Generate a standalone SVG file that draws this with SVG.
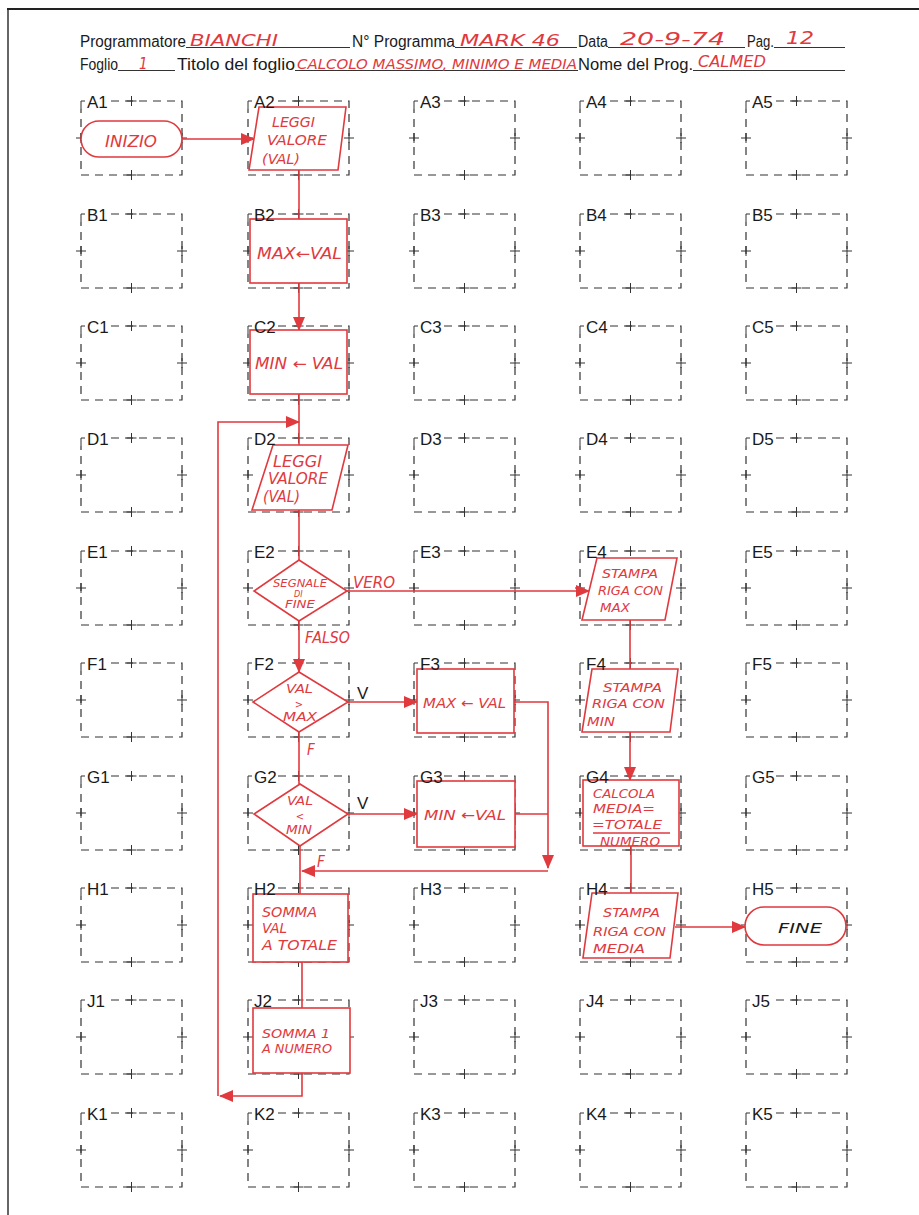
<svg xmlns="http://www.w3.org/2000/svg" width="919" height="1215" viewBox="0 0 919 1215">
<style>
.lbl{font-family:"Liberation Sans",Arial,sans-serif;font-size:17px;fill:#1a1a1a}
.vv{font-family:"Liberation Sans",Arial,sans-serif;font-size:17px;fill:#1a1a1a}
.hd{font-family:"Liberation Sans",Arial,sans-serif;font-size:16px;fill:#1a1a1a}
.hw{font-family:"DejaVu Sans Condensed","DejaVu Sans",sans-serif;font-style:italic;fill:#e0393e}
.bk{font-family:"DejaVu Sans Condensed","DejaVu Sans",sans-serif;font-style:italic;fill:#1a1a1a}
.shape{fill:#fff;stroke:#e0393e;stroke-width:1.6}
.con{fill:none;stroke:#e0393e;stroke-width:1.6}
.ul{stroke:#333;stroke-width:1}
.dash{fill:none;stroke:#333;stroke-width:1.2;stroke-dasharray:8 6}
.cross{fill:none;stroke:#333;stroke-width:1}
</style>
<defs>
<g id="box">
<path class="cross" d="M0 8V0H4"/>
<path class="dash" d="M30 0H101V74H0V8"/>
<path class="cross" d="M50.5 -5V5M45.5 0H55.5M50.5 69V79M45.5 74H55.5M-5 37H5M0 32V42M96 37H106M101 32V42"/>
</g>
<marker id="ah" markerWidth="14" markerHeight="12" refX="13" refY="6" orient="auto" markerUnits="userSpaceOnUse">
<path d="M0 0L14 6L0 12Z" fill="#e0393e"/>
</marker>
</defs>
<rect width="919" height="1215" fill="#fff"/>
<g id="border">
<path d="M7 9H919" stroke="#222" stroke-width="2" fill="none"/>
<path d="M8 10V1215" stroke="#333" stroke-width="1.5" fill="none"/>
</g>
<g id="header">
<text class="hd" x="80" y="47" textLength="106" lengthAdjust="spacingAndGlyphs">Programmatore</text>
<text class="hd" x="352" y="47" textLength="103" lengthAdjust="spacingAndGlyphs">N° Programma</text>
<text class="hd" x="578" y="47" textLength="30" lengthAdjust="spacingAndGlyphs">Data</text>
<text class="hd" x="747" y="47" textLength="27" lengthAdjust="spacingAndGlyphs">Pag.</text>
<text class="hd" x="80" y="70" textLength="38" lengthAdjust="spacingAndGlyphs">Foglio</text>
<text class="hd" x="177" y="70" textLength="118" lengthAdjust="spacingAndGlyphs">Titolo del foglio</text>
<text class="hd" x="578" y="70" textLength="115" lengthAdjust="spacingAndGlyphs">Nome del Prog.</text>
<path class="ul" d="M186 47.5H350M455 47.5H577M608 47.5H745M774 47.5H845M118 70.5H175M295 70.5H578M693 70.5H845"/>
<text class="hw" x="190" y="46" font-size="15" textLength="88" lengthAdjust="spacingAndGlyphs">BIANCHI</text>
<text class="hw" x="460" y="46" font-size="15" textLength="100" lengthAdjust="spacingAndGlyphs">MARK 46</text>
<text class="hw" x="620" y="45" font-size="17" textLength="105" lengthAdjust="spacingAndGlyphs">20-9-74</text>
<text class="hw" x="786" y="44" font-size="17" textLength="28" lengthAdjust="spacingAndGlyphs">12</text>
<text class="hw" x="139" y="69" font-size="15">1</text>
<text class="hw" x="297" y="69" font-size="14" textLength="280" lengthAdjust="spacingAndGlyphs">CALCOLO MASSIMO, MINIMO E MEDIA</text>
<text class="hw" x="698" y="67" font-size="15" textLength="68" lengthAdjust="spacingAndGlyphs">CALMED</text>
</g>
<g id="grid">
<use href="#box" x="81" y="101"/><use href="#box" x="248" y="101"/><use href="#box" x="414" y="101"/><use href="#box" x="580" y="101"/><use href="#box" x="746" y="101"/>
<use href="#box" x="81" y="214"/><use href="#box" x="248" y="214"/><use href="#box" x="414" y="214"/><use href="#box" x="580" y="214"/><use href="#box" x="746" y="214"/>
<use href="#box" x="81" y="326"/><use href="#box" x="248" y="326"/><use href="#box" x="414" y="326"/><use href="#box" x="580" y="326"/><use href="#box" x="746" y="326"/>
<use href="#box" x="81" y="438"/><use href="#box" x="248" y="438"/><use href="#box" x="414" y="438"/><use href="#box" x="580" y="438"/><use href="#box" x="746" y="438"/>
<use href="#box" x="81" y="551"/><use href="#box" x="248" y="551"/><use href="#box" x="414" y="551"/><use href="#box" x="580" y="551"/><use href="#box" x="746" y="551"/>
<use href="#box" x="81" y="663"/><use href="#box" x="248" y="663"/><use href="#box" x="414" y="663"/><use href="#box" x="580" y="663"/><use href="#box" x="746" y="663"/>
<use href="#box" x="81" y="776"/><use href="#box" x="248" y="776"/><use href="#box" x="414" y="776"/><use href="#box" x="580" y="776"/><use href="#box" x="746" y="776"/>
<use href="#box" x="81" y="888"/><use href="#box" x="248" y="888"/><use href="#box" x="414" y="888"/><use href="#box" x="580" y="888"/><use href="#box" x="746" y="888"/>
<use href="#box" x="81" y="1000"/><use href="#box" x="248" y="1000"/><use href="#box" x="414" y="1000"/><use href="#box" x="580" y="1000"/><use href="#box" x="746" y="1000"/>
<use href="#box" x="81" y="1113"/><use href="#box" x="248" y="1113"/><use href="#box" x="414" y="1113"/><use href="#box" x="580" y="1113"/><use href="#box" x="746" y="1113"/>
</g>
<g id="connectors">
<path class="con" d="M182 139H254" marker-end="url(#ah)"/>
<path class="con" d="M299 170V219"/>
<path class="con" d="M299 283V330" marker-end="url(#ah)"/>
<path class="con" d="M299 394V445"/>
<path class="con" d="M302 1073V1096H220" marker-end="url(#ah)"/>
<path class="con" d="M218 1096V422H299" marker-end="url(#ah)"/>
<path class="con" d="M299 510V560"/>
<path class="con" d="M347 591H589" marker-end="url(#ah)"/>
<path class="con" d="M299 621V672" marker-end="url(#ah)"/>
<path class="con" d="M630 620V669"/>
<path class="con" d="M348 702H417" marker-end="url(#ah)"/>
<path class="con" d="M514 702H548V868" marker-end="url(#ah)"/>
<path class="con" d="M515 814H548"/>
<path class="con" d="M548 871H302" marker-end="url(#ah)"/>
<path class="con" d="M299 732V784"/>
<path class="con" d="M348 814H417" marker-end="url(#ah)"/>
<path class="con" d="M300 846V894"/>
<path class="con" d="M630 732V780" marker-end="url(#ah)"/>
<path class="con" d="M631 846V893"/>
<path class="con" d="M675 927H745" marker-end="url(#ah)"/>
<path class="con" d="M302 962V1008"/>
</g>
<g id="node-inizio">
<rect class="shape" x="81" y="121" width="101" height="36" rx="18"/>
<text class="hw" x="105" y="147" font-size="15" textLength="52" lengthAdjust="spacingAndGlyphs">INIZIO</text>
</g>
<g id="node-a2">
<path class="shape" d="M259 107H346L338 170H249Z"/>
<text class="hw" font-size="14"><tspan x="272" y="127" textLength="43" lengthAdjust="spacingAndGlyphs">LEGGI</tspan><tspan x="267" y="145" textLength="60" lengthAdjust="spacingAndGlyphs">VALORE</tspan><tspan x="262" y="164" textLength="38" lengthAdjust="spacingAndGlyphs">(VAL)</tspan></text>
</g>
<g id="node-b2">
<rect class="shape" x="250" y="219" width="97" height="64"/>
<text class="hw" x="257" y="259" font-size="15" textLength="85" lengthAdjust="spacingAndGlyphs">MAX←VAL</text>
</g>
<g id="node-c2">
<rect class="shape" x="250" y="330" width="97" height="64"/>
<text class="hw" x="255" y="369" font-size="15" textLength="88" lengthAdjust="spacingAndGlyphs">MIN ← VAL</text>
</g>
<g id="node-d2">
<path class="shape" d="M273 445H348L332 510H252Z"/>
<text class="hw" font-size="16"><tspan x="273" y="467" textLength="49" lengthAdjust="spacingAndGlyphs">LEGGI</tspan><tspan x="268" y="484" textLength="60" lengthAdjust="spacingAndGlyphs">VALORE</tspan><tspan x="263" y="502" textLength="37" lengthAdjust="spacingAndGlyphs">(VAL)</tspan></text>
</g>
<g id="node-e2">
<path class="shape" d="M299 560L347 591L299 621L254 591Z"/>
<text class="hw" x="273" y="587" font-size="10" textLength="54" lengthAdjust="spacingAndGlyphs">SEGNALE</text>
<text class="hw" x="294" y="597" font-size="9">DI</text>
<text class="hw" x="285" y="608" font-size="11" textLength="30" lengthAdjust="spacingAndGlyphs">FINE</text>
<text class="hw" x="353" y="588" font-size="15" textLength="42" lengthAdjust="spacingAndGlyphs">VERO</text>
<text class="hw" x="305" y="643" font-size="15" textLength="45" lengthAdjust="spacingAndGlyphs">FALSO</text>
</g>
<g id="node-e4">
<path class="shape" d="M597 558H677L665 620H582Z"/>
<text class="hw" font-size="13"><tspan x="602" y="578" textLength="56" lengthAdjust="spacingAndGlyphs">STAMPA</tspan><tspan x="598" y="595" textLength="65" lengthAdjust="spacingAndGlyphs">RIGA CON</tspan><tspan x="600" y="612" textLength="30" lengthAdjust="spacingAndGlyphs">MAX</tspan></text>
</g>
<g id="node-f2">
<path class="shape" d="M299 672L348 702L299 732L253 702Z"/>
<text class="hw" x="286" y="693" font-size="12" textLength="27" lengthAdjust="spacingAndGlyphs">VAL</text>
<text class="hw" x="299" y="708" font-size="11" text-anchor="middle">&gt;</text>
<text class="hw" x="283" y="721" font-size="12" textLength="34" lengthAdjust="spacingAndGlyphs">MAX</text>
<text class="vv" x="357" y="699">V</text>
<text class="hw" x="307" y="755" font-size="15">F</text>
</g>
<g id="node-f3">
<rect class="shape" x="417" y="669" width="97" height="64"/>
<text class="hw" x="423" y="708" font-size="14" textLength="83" lengthAdjust="spacingAndGlyphs">MAX ← VAL</text>
</g>
<g id="node-g2">
<path class="shape" d="M300 784L348 814L300 846L254 814Z"/>
<text class="hw" x="287" y="805" font-size="12" textLength="26" lengthAdjust="spacingAndGlyphs">VAL</text>
<text class="hw" x="300" y="820" font-size="11" text-anchor="middle">&lt;</text>
<text class="hw" x="286" y="834" font-size="12" textLength="26" lengthAdjust="spacingAndGlyphs">MIN</text>
<text class="vv" x="357" y="809">V</text>
<text class="hw" x="317" y="867" font-size="15">F</text>
</g>
<g id="node-g3">
<rect class="shape" x="417" y="781" width="98" height="66"/>
<text class="hw" x="424" y="820" font-size="14" textLength="82" lengthAdjust="spacingAndGlyphs">MIN ←VAL</text>
</g>
<g id="node-f4">
<path class="shape" d="M592 669H678L670 732H582Z"/>
<text class="hw" font-size="13"><tspan x="603" y="692" textLength="59" lengthAdjust="spacingAndGlyphs">STAMPA</tspan><tspan x="592" y="708" textLength="73" lengthAdjust="spacingAndGlyphs">RIGA CON</tspan><tspan x="587" y="726" textLength="28" lengthAdjust="spacingAndGlyphs">MIN</tspan></text>
</g>
<g id="node-g4">
<rect class="shape" x="583" y="780" width="96" height="66"/>
<text class="hw" font-size="13"><tspan x="593" y="798" textLength="62" lengthAdjust="spacingAndGlyphs">CALCOLA</tspan><tspan x="593" y="813" textLength="62" lengthAdjust="spacingAndGlyphs">MEDIA=</tspan><tspan x="592" y="829" textLength="70" lengthAdjust="spacingAndGlyphs">=TOTALE</tspan><tspan x="600" y="846" textLength="60" lengthAdjust="spacingAndGlyphs">NUMERO</tspan></text>
<path class="con" d="M593 833H670"/>
</g>
<g id="node-h4">
<path class="shape" d="M592 893H678L670 958H583Z"/>
<text class="hw" font-size="13"><tspan x="603" y="917" textLength="57" lengthAdjust="spacingAndGlyphs">STAMPA</tspan><tspan x="593" y="936" textLength="73" lengthAdjust="spacingAndGlyphs">RIGA CON</tspan><tspan x="593" y="953" textLength="52" lengthAdjust="spacingAndGlyphs">MEDIA</tspan></text>
</g>
<g id="node-fine">
<rect class="shape" x="745" y="907" width="101" height="38" rx="19"/>
<text class="bk" x="778" y="933" font-size="14" textLength="44" lengthAdjust="spacingAndGlyphs">FINE</text>
</g>
<g id="node-h2">
<rect class="shape" x="253" y="894" width="95" height="68"/>
<text class="hw" font-size="14"><tspan x="262" y="917" textLength="55" lengthAdjust="spacingAndGlyphs">SOMMA</tspan><tspan x="262" y="933" textLength="25" lengthAdjust="spacingAndGlyphs">VAL</tspan><tspan x="262" y="950" textLength="75" lengthAdjust="spacingAndGlyphs">A TOTALE</tspan></text>
</g>
<g id="node-j2">
<rect class="shape" x="253" y="1008" width="97" height="65"/>
<text class="hw" font-size="12"><tspan x="262" y="1038" textLength="68" lengthAdjust="spacingAndGlyphs">SOMMA 1</tspan><tspan x="262" y="1053" textLength="70" lengthAdjust="spacingAndGlyphs">A NUMERO</tspan></text>
</g>
<g id="labels">
<text class="lbl" x="87" y="108">A1</text><text class="lbl" x="254" y="108">A2</text><text class="lbl" x="420" y="108">A3</text><text class="lbl" x="586" y="108">A4</text><text class="lbl" x="752" y="108">A5</text>
<text class="lbl" x="87" y="221">B1</text><text class="lbl" x="254" y="221">B2</text><text class="lbl" x="420" y="221">B3</text><text class="lbl" x="586" y="221">B4</text><text class="lbl" x="752" y="221">B5</text>
<text class="lbl" x="87" y="333">C1</text><text class="lbl" x="254" y="333">C2</text><text class="lbl" x="420" y="333">C3</text><text class="lbl" x="586" y="333">C4</text><text class="lbl" x="752" y="333">C5</text>
<text class="lbl" x="87" y="445">D1</text><text class="lbl" x="254" y="445">D2</text><text class="lbl" x="420" y="445">D3</text><text class="lbl" x="586" y="445">D4</text><text class="lbl" x="752" y="445">D5</text>
<text class="lbl" x="87" y="558">E1</text><text class="lbl" x="254" y="558">E2</text><text class="lbl" x="420" y="558">E3</text><text class="lbl" x="586" y="558">E4</text><text class="lbl" x="752" y="558">E5</text>
<text class="lbl" x="87" y="670">F1</text><text class="lbl" x="254" y="670">F2</text><text class="lbl" x="420" y="670">F3</text><text class="lbl" x="586" y="670">F4</text><text class="lbl" x="752" y="670">F5</text>
<text class="lbl" x="87" y="783">G1</text><text class="lbl" x="254" y="783">G2</text><text class="lbl" x="420" y="783">G3</text><text class="lbl" x="586" y="783">G4</text><text class="lbl" x="752" y="783">G5</text>
<text class="lbl" x="87" y="895">H1</text><text class="lbl" x="254" y="895">H2</text><text class="lbl" x="420" y="895">H3</text><text class="lbl" x="586" y="895">H4</text><text class="lbl" x="752" y="895">H5</text>
<text class="lbl" x="87" y="1007">J1</text><text class="lbl" x="254" y="1007">J2</text><text class="lbl" x="420" y="1007">J3</text><text class="lbl" x="586" y="1007">J4</text><text class="lbl" x="752" y="1007">J5</text>
<text class="lbl" x="87" y="1120">K1</text><text class="lbl" x="254" y="1120">K2</text><text class="lbl" x="420" y="1120">K3</text><text class="lbl" x="586" y="1120">K4</text><text class="lbl" x="752" y="1120">K5</text>
</g>
</svg>
